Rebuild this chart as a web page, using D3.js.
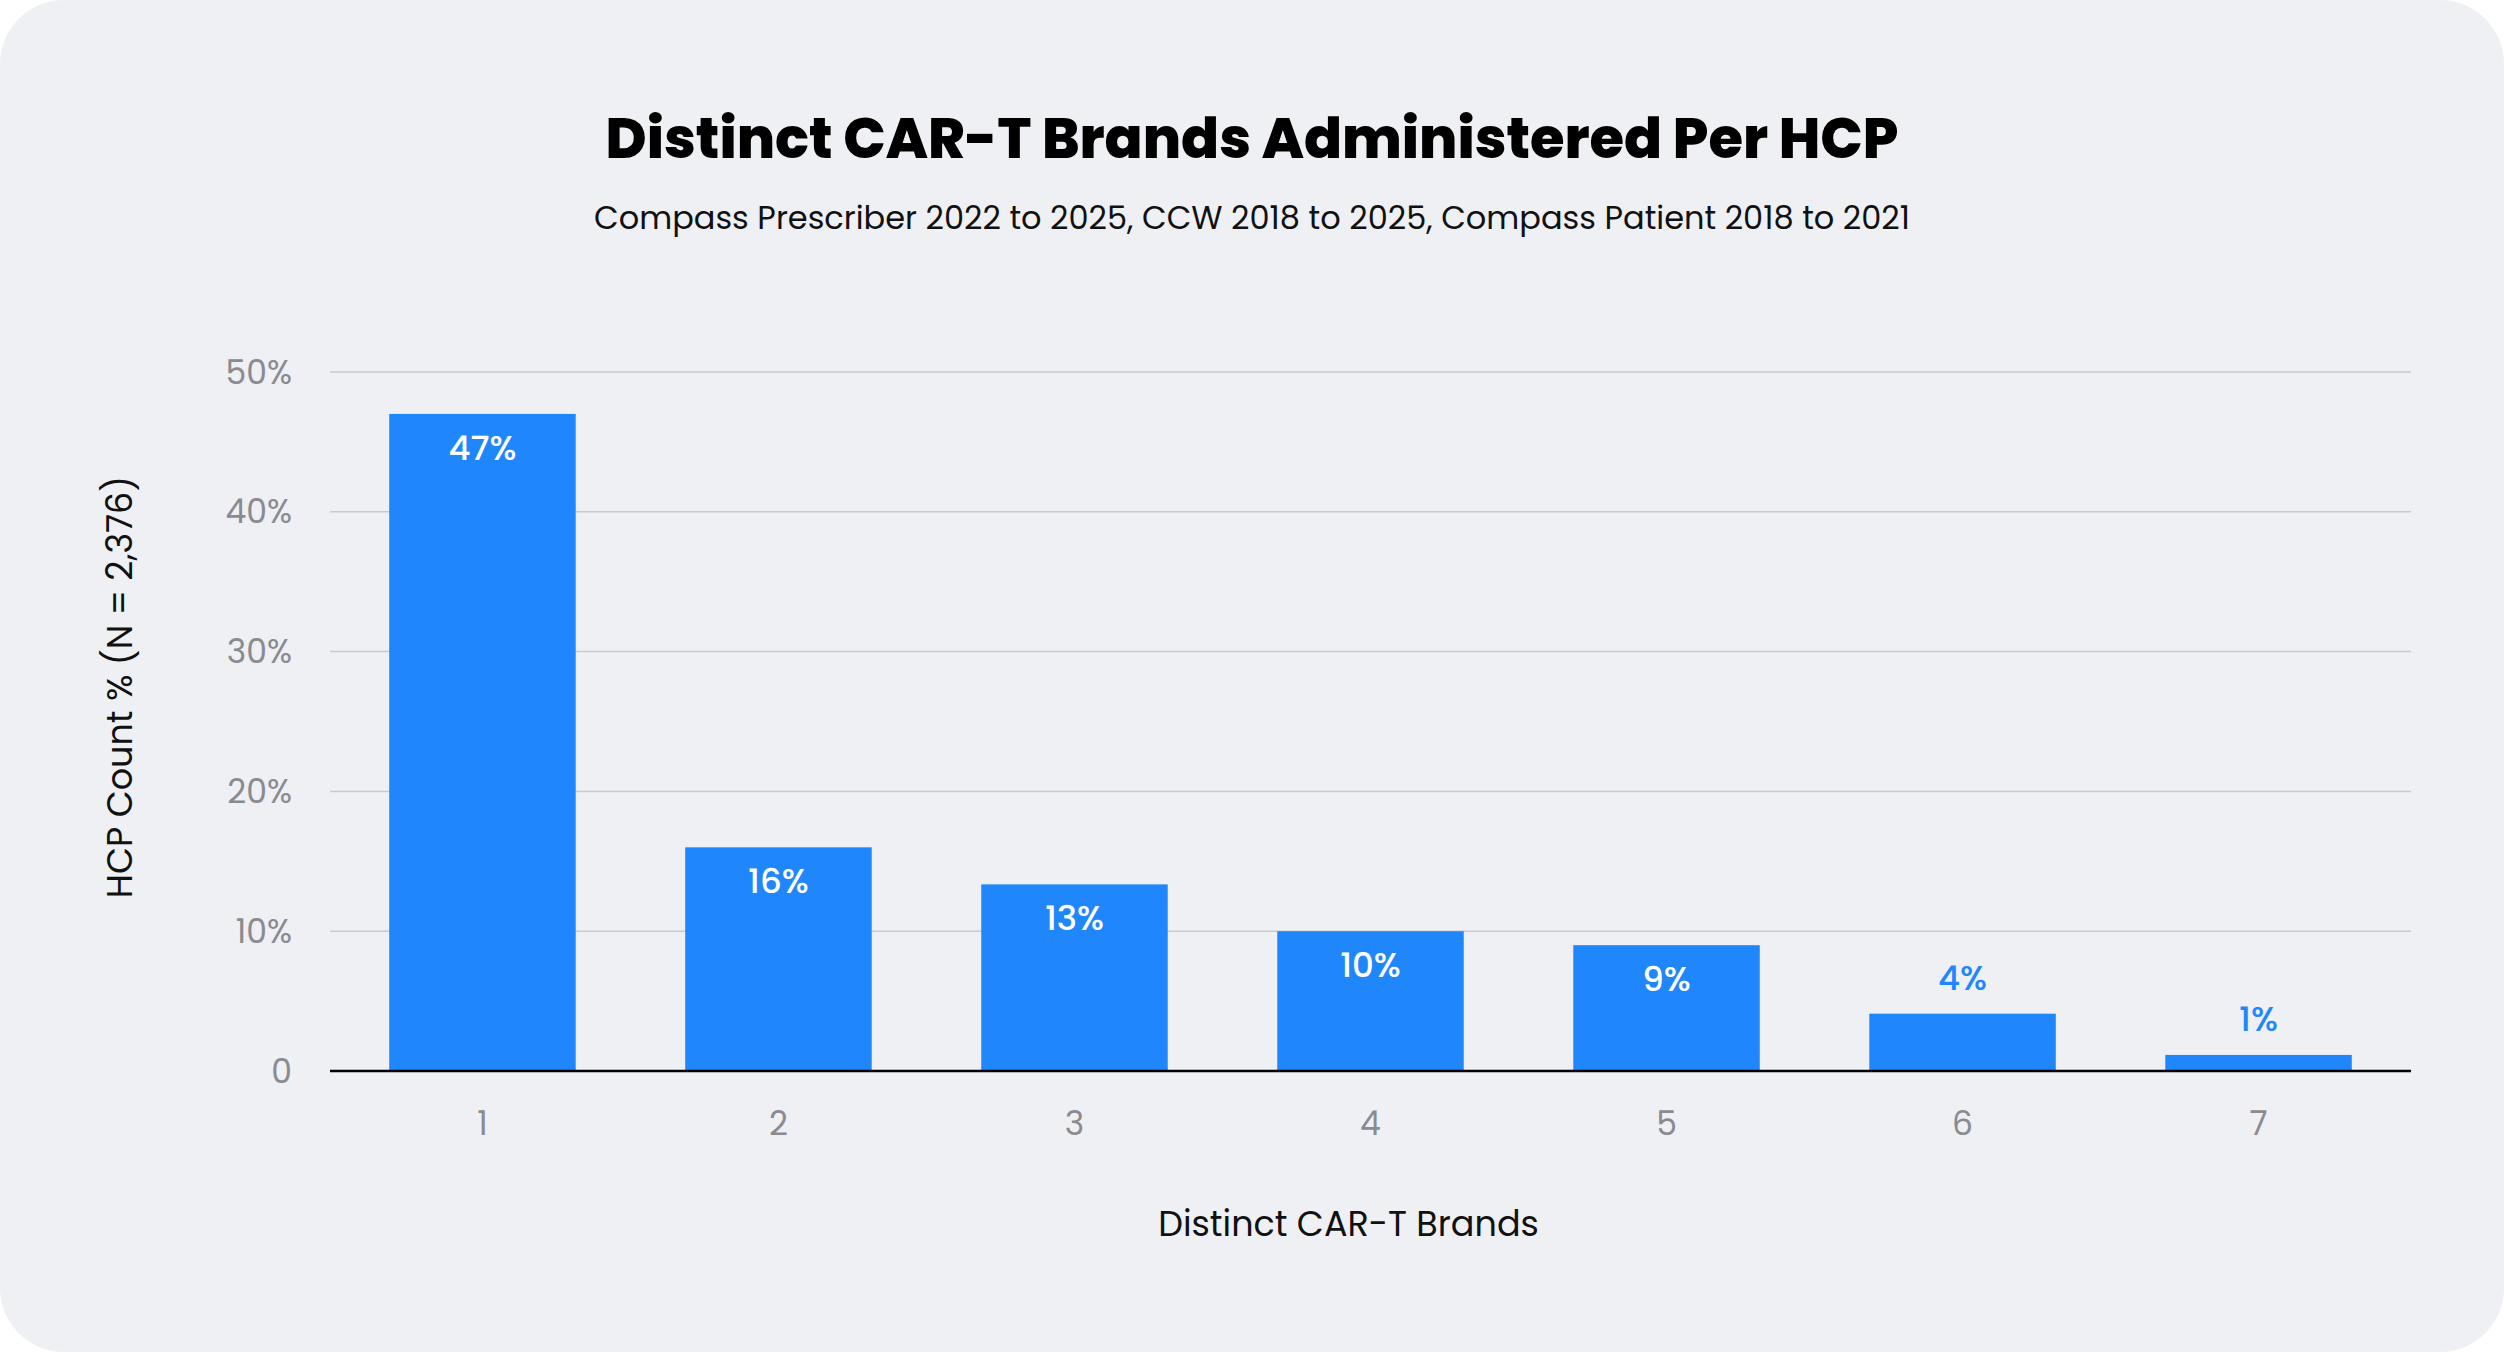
<!DOCTYPE html>
<html><head><meta charset="utf-8">
<script src="https://cdn.jsdelivr.net/npm/d3@7"></script>
<style>body{margin:0;background:#fff;}svg{display:block;font-family:Poppins,Inter,"Noto Sans",sans-serif;}</style>
</head><body><div id="chart"></div>
<script>
// data
var categories = ["1", "2", "3", "4", "5", "6", "7"];
var values = [47, 16, 13.35, 10, 9, 4.1, 1.15];
var labels = ["47%", "16%", "13%", "10%", "9%", "4%", "1%"];
var yTicks = [0, 10, 20, 30, 40, 50];

var W = 2504, H = 1352;
var margin = {top: 372, right: 93, bottom: 281, left: 330},
    width = W - margin.left - margin.right,
    height = H - margin.top - margin.bottom;

var svg = d3.select("#chart").append("svg").attr("width", W).attr("height", H);
svg.append("rect").attr("x", 0).attr("y", 0).attr("width", W).attr("height", H)
    .attr("rx", 64).attr("fill", "#eff0f4");

svg.append("text").attr("x", W / 2).attr("y", 158).attr("text-anchor", "middle")
    .style("font-size", "56px").style("font-weight", 800).style("fill", "#000")
    .text("Distinct CAR-T Brands Administered Per HCP");
svg.append("text").attr("x", W / 2).attr("y", 229).attr("text-anchor", "middle")
    .style("font-size", "32px").style("fill", "#111")
    .text("Compass Prescriber 2022 to 2025, CCW 2018 to 2025, Compass Patient 2018 to 2021");

var g = svg.append("g").attr("transform", "translate(" + margin.left + "," + margin.top + ")");

var x = d3.scaleBand().domain(categories).range([0, width]).paddingInner(0.37).paddingOuter(0.2);
var y = d3.scaleLinear().domain([0, 50]).range([height, 0]);

// gridlines
g.selectAll(".grid").data(yTicks.slice(1)).enter().append("line")
    .attr("x1", 0).attr("x2", width)
    .attr("y1", function(d) { return y(d); }).attr("y2", function(d) { return y(d); })
    .attr("stroke", "#c9cacf").attr("stroke-width", 1.5);

// y tick labels
g.selectAll(".ytick").data(yTicks).enter().append("text")
    .attr("x", -38).attr("y", function(d) { return y(d); }).attr("dy", "0.35em")
    .attr("text-anchor", "end").style("font-size", "33px").style("fill", "#8a8b90")
    .text(function(d) { return d === 0 ? "0" : d + "%"; });

// bars
g.selectAll(".bar").data(values).enter().append("rect")
    .attr("x", function(d, i) { return x(categories[i]); })
    .attr("y", function(d) { return y(d); })
    .attr("width", x.bandwidth())
    .attr("height", function(d) { return height - y(d); })
    .attr("fill", "#1f87fb");

// value labels
g.selectAll(".val").data(values).enter().append("text")
    .attr("x", function(d, i) { return x(categories[i]) + x.bandwidth() / 2; })
    .attr("y", function(d) { return d > 8 ? y(d) + 46 : y(d) - 24; })
    .attr("text-anchor", "middle").style("font-size", "34px").style("font-weight", 500)
    .style("fill", function(d) { return d > 8 ? "#fff" : "#1f87fb"; })
    .text(function(d, i) { return labels[i]; });

// baseline
g.append("line").attr("x1", 0).attr("x2", width).attr("y1", height).attr("y2", height)
    .attr("stroke", "#000").attr("stroke-width", 2.5);

// x tick labels
g.selectAll(".xtick").data(categories).enter().append("text")
    .attr("x", function(d) { return x(d) + x.bandwidth() / 2; })
    .attr("y", height + 64).attr("text-anchor", "middle")
    .style("font-size", "33px").style("fill", "#8a8b90")
    .text(function(d) { return d; });

// axis titles
svg.append("text").attr("x", margin.left + width / 2 - 22).attr("y", 1236).attr("text-anchor", "middle")
    .style("font-size", "35px").style("fill", "#111").text("Distinct CAR-T Brands");
svg.append("text").attr("transform", "translate(132,687) rotate(-90)").attr("text-anchor", "middle")
    .style("font-size", "35px").style("fill", "#111").text("HCP Count % (N = 2,376)");
</script></body></html>
